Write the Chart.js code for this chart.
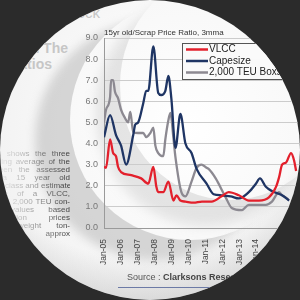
<!DOCTYPE html>
<html>
<head>
<meta charset="utf-8">
<script src="https://cdn.jsdelivr.net/npm/chart.js@4.4.0/dist/chart.umd.min.js"></script>
<style>
  html, body { margin: 0; padding: 0; width: 300px; height: 300px; background: #2b2b2b; overflow: hidden; }
  #disc { position: absolute; left: 0; top: 0; width: 300px; height: 300px; border-radius: 50%; overflow: hidden;
          background: radial-gradient(circle at 62% 42%, #ffffff 0%, #f8f8f8 50%, #ededed 100%); font-family: "Liberation Sans", Arial, sans-serif; }
  .swoosh { position: absolute; border-radius: 50%; }
  #s1 { left: 70px; top: 0px; width: 240px; height: 240px; box-shadow: -35px 20px 10px 0 rgba(165,165,165,0.42); }
  #s2 { left: 120px; top: -30px; width: 220px; height: 230px; box-shadow: -24px 26px 12px 0 rgba(160,160,160,0.25); }
  #s3 { left: 0; top: 0; width: 300px; height: 300px; background: radial-gradient(circle at 45% 25%, rgba(0,0,0,0) 65%, rgba(150,150,150,0.6) 100%); }
  #head0 { position: absolute; right: 200px; top: 4px; font-size: 15px; color: #c4c4c4; white-space: nowrap; }
  #head1 { position: absolute; right: 232px; top: 40px; font-size: 14px; font-weight: bold; color: #c6c6c6; white-space: nowrap; }
  #head2 { position: absolute; right: 248px; top: 56px; font-size: 14px; font-weight: bold; color: #c6c6c6; white-space: nowrap; }
  #para { position: absolute; left: -40px; top: 150px; width: 110px; font-size: 8px; line-height: 8px; color: #3a3a3a;
          -webkit-mask-image: linear-gradient(to right, rgba(0,0,0,0) 30%, rgba(0,0,0,0.35) 60%, rgba(0,0,0,1) 100%); }
  #para div { text-align: justify; text-align-last: justify; white-space: nowrap; }
  #chart { position: absolute; left: 0; top: 0; }
  #source { position: absolute; left: 127px; top: 272px; font-size: 9px; color: #555; white-space: nowrap; }
  #source b { color: #444; }
  #rule { position: absolute; left: 118px; top: 287px; width: 110px; height: 1px; background: #6c7aa6; }
</style>
</head>
<body>
<div id="disc">
  <div class="swoosh" id="s3"></div>
  <div class="swoosh" id="s1"></div>
  <div class="swoosh" id="s2"></div>
  <div id="head0">Reality Check</div>
  <div id="head1">Variation In The</div>
  <div id="head2">Price Ratios</div>
  <div id="para">
    <div>This graph shows the three</div>
    <div>month moving average of the</div>
    <div>ratio between the assessed</div>
    <div>price of a 15 year old</div>
    <div>ship in each class and estimated</div>
    <div>scrap value of a VLCC,</div>
    <div>Capesize and 2,000 TEU con-</div>
    <div>tainership, values based</div>
    <div>on demolition prices</div>
    <div>and light weight ton-</div>
    <div>nage, approx</div>
  </div>
  <canvas id="chart" width="340" height="300"></canvas>
  <div id="source">Source : <b>Clarksons Research</b></div>
  <div id="rule"></div>
</div>
<script>
const seriesNames = ['VLCC', 'Capesize', '2,000 TEU Boxship'];
const seriesColors = ['#e3202c', '#1f3564', '#8c8991'];
const chartTitle = '15yr old/Scrap Price Ratio, 3mma';

const tickYears = [2005, 2006, 2007, 2008, 2009, 2010, 2011, 2012, 2013, 2014, 2015, 2016];
const tickLabels = ['Jan-05', 'Jan-06', 'Jan-07', 'Jan-08', 'Jan-09', 'Jan-10', 'Jan-11', 'Jan-12', 'Jan-13', 'Jan-14', 'Jan-15', 'Jan-16'];

// [year, ratio]
const vlcc = [[2005.0,2.9],[2005.12,2.85],[2005.36,4.2],[2005.54,3.55],[2005.71,3.4],[2005.83,2.9],[2006.01,2.65],
  [2006.61,2.5],[2007.2,2.35],[2007.62,2.1],[2007.92,2.9],[2008.1,1.95],[2008.21,1.7],[2008.51,1.7],[2008.81,2.2],
  [2009.11,1.3],[2009.29,1.55],[2009.52,1.3],[2009.82,1.25],[2010.3,1.2],[2010.8,1.25],[2011.37,1.25],[2011.96,1.5],
  [2012.38,1.7],[2012.98,1.55],[2013.57,1.3],[2014.17,1.3],[2014.76,1.45],[2015.18,1.95],[2015.36,2.4],[2015.54,3.0],
  [2015.77,3.1],[2016.07,3.55],[2016.25,3.2],[2016.37,2.7]];
const capesize = [[2005.0,4.3],[2005.36,5.35],[2005.71,4.4],[2006.01,3.9],[2006.31,3.0],[2006.73,4.4],[2006.85,4.9],
  [2007.02,5.0],[2007.32,5.9],[2007.5,6.5],[2007.62,6.5],[2007.92,8.6],[2008.21,6.4],[2008.39,6.3],[2008.63,6.5],
  [2008.81,7.2],[2008.99,6.1],[2009.23,3.8],[2009.52,5.4],[2009.82,4.0],[2010.18,3.55],[2010.48,2.8],[2011.07,2.1],
  [2011.49,1.6],[2011.96,1.55],[2012.5,1.5],[2012.98,1.4],[2013.57,1.7],[2013.99,2.1],[2014.23,2.35],[2014.58,1.95],
  [2014.94,1.75],[2015.54,1.55],[2015.95,1.3]];
const boxship = [[2005.0,5.0],[2005.12,5.6],[2005.36,6.2],[2005.42,7.0],[2005.54,7.0],[2005.65,6.45],[2005.83,6.15],
  [2006.01,5.6],[2006.25,5.2],[2006.43,5.0],[2006.55,5.5],[2006.61,5.25],[2006.73,4.55],[2007.02,4.5],[2007.32,4.5],
  [2007.5,4.3],[2007.74,4.5],[2007.92,4.75],[2008.04,3.9],[2008.21,3.55],[2008.51,3.4],[2008.63,4.2],[2008.81,5.1],
  [2008.93,5.45],[2009.11,4.25],[2009.23,3.35],[2009.58,1.7],[2009.82,1.5],[2010.18,2.2],[2010.48,2.85],[2010.77,3.0],
  [2011.07,2.85],[2011.19,2.8],[2011.61,2.35],[2012.2,1.45],[2012.56,0.95],[2013.15,0.85],[2013.57,1.1],[2014.58,1.1],
  [2014.94,1.25],[2015.36,1.7],[2015.54,1.55],[2015.83,1.4],[2015.95,1.3]];

const toPoints = arr => arr.map(p => ({ x: p[0], y: p[1] }))

const titlePlugin = {
  id: 'titleText',
  afterDraw(chart) {
    const ctx = chart.ctx
    ctx.save()
    ctx.font = '8px "Liberation Sans", Arial, sans-serif'
    ctx.fillStyle = '#333'
    ctx.textBaseline = 'middle'
    ctx.fillText(chartTitle, chart.chartArea.left, 33)
    ctx.restore()
  }
}

const legendPlugin = {
  id: 'boxLegend',
  afterDatasetsDraw(chart) {
    const ctx = chart.ctx
    const left = 182, top = 43, w = 160, h = 36
    ctx.save()
    ctx.fillStyle = 'rgba(250,250,250,0.97)'
    ctx.fillRect(left, top, w, h)
    ctx.strokeStyle = '#555'
    ctx.lineWidth = 1
    ctx.strokeRect(left + 0.5, top + 0.5, w, h)
    ctx.font = '10px "Liberation Sans", Arial, sans-serif'
    ctx.textBaseline = 'middle'
    seriesNames.forEach((name, i) => {
      const y = top + 6.5 + i * 11.5
      ctx.strokeStyle = seriesColors[i]
      ctx.lineWidth = 2.5
      ctx.beginPath()
      ctx.moveTo(left + 4, y)
      ctx.lineTo(left + 26, y)
      ctx.stroke()
      ctx.fillStyle = '#222'
      ctx.fillText(name, left + 27, y)
    })
    ctx.restore()
  }
}

const ctx = document.getElementById('chart').getContext('2d');
const myChart = new Chart(ctx, {
  type: 'line',
  data: {
    datasets: [vlcc, capesize, boxship].map((arr, i) => ({
      label: seriesNames[i],
      data: toPoints(arr),
      borderColor: seriesColors[i],
      backgroundColor: seriesColors[i],
      borderWidth: 2.3,
      pointRadius: 0,
      cubicInterpolationMode: 'monotone',
      fill: false
    }))
  },
  options: {
    responsive: false,
    animation: false,
    devicePixelRatio: 1,
    layout: { padding: { top: 38, right: 40, left: 0, bottom: 0 } },
    plugins: { legend: { display: false }, tooltip: { enabled: false } },
    scales: {
      x: {
        type: 'linear',
        min: 2005,
        max: 2016.6,
        afterBuildTicks: s => { s.ticks = tickYears.map(v => ({ value: v })) },
        afterFit: s => { s.height = 72 },
        ticks: {
          callback: v => tickLabels[tickYears.indexOf(v)],
          minRotation: 90,
          maxRotation: 90,
          padding: 3,
          color: '#444',
          font: { size: 8.5, family: '"Liberation Sans", Arial, sans-serif' }
        },
        grid: { display: false },
        border: { color: '#9a9a9a' }
      },
      y: {
        min: 0,
        max: 9,
        afterFit: s => { s.width = 104 },
        ticks: {
          stepSize: 1,
          callback: v => v.toFixed(1),
          padding: 6,
          color: '#777',
          font: { size: 9, family: '"Liberation Sans", Arial, sans-serif' }
        },
        grid: { color: '#cccccc', drawTicks: false },
        border: { color: '#9a9a9a' }
      }
    }
  },
  plugins: [titlePlugin, legendPlugin]
});
</script>
</body>
</html>
